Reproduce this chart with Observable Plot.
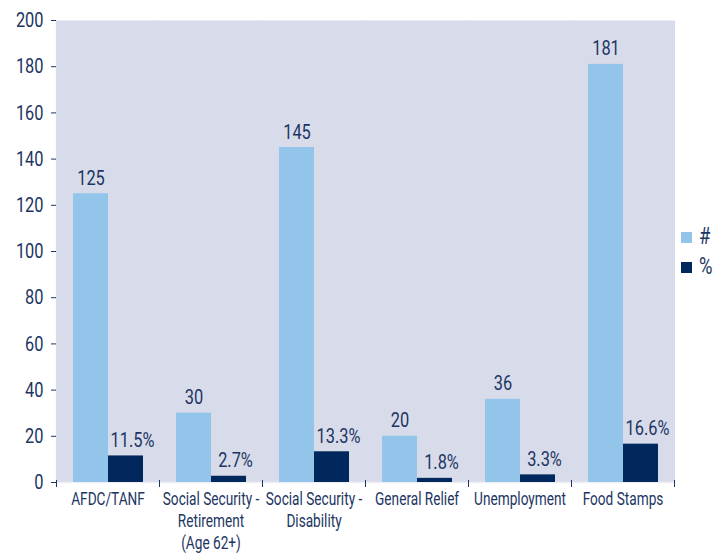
<!DOCTYPE html>
<html>
<head>
<meta charset="utf-8">
<script src="https://cdn.jsdelivr.net/npm/d3@7"></script>
<script src="https://cdn.jsdelivr.net/npm/@observablehq/plot@0.6"></script>
<style>
  body { margin: 0; background: #fff; }
  #wrap { position: relative; width: 725px; height: 553px; font-family: Roboto, sans-serif; color: #1c3563; }
  #legend { position: absolute; left: 681px; top: 222px; font-size: 23px; line-height: 30px; }
  #legend div { display: flex; align-items: center; }
  #legend span.sw { display: inline-block; width: 11px; height: 11px; margin-right: 7px; }
  #legend span.tx { display: inline-block; transform: scaleX(0.8); transform-origin: left center; }
</style>
</head>
<body>
<div id="wrap"><div id="legend"></div></div>
<script>
const categories = ["AFDC/TANF", "Social Security - Retirement (Age 62+)", "Social Security - Disability", "General Relief", "Unemployment", "Food Stamps"];
const tickLabels = ["AFDC/TANF", "Social Security -\nRetirement\n(Age 62+)", "Social Security -\nDisability", "General Relief", "Unemployment", "Food Stamps"];
const seriesNames = ["#", "%"];
const countValues = [125, 30, 145, 20, 36, 181];
const percentValues = [11.5, 2.7, 13.3, 1.8, 3.3, 16.6];
const yTicks = [0, 20, 40, 60, 80, 100, 120, 140, 160, 180, 200];

const colors = {"#": "#93c4ea", "%": "#00285c"};
const navy = "#1c3563";

const data = [];
categories.forEach((c, i) => {
  data.push({cat: c, series: "#", value: countValues[i], label: String(countValues[i])});
  data.push({cat: c, series: "%", value: percentValues[i], label: percentValues[i].toFixed(1) + "%"});
});

const chart = Plot.plot({
  width: 725,
  height: 553,
  marginLeft: 55,
  marginRight: 50,
  marginTop: 20,
  marginBottom: 71,
  style: {fontFamily: 'Roboto, sans-serif', color: navy, background: "transparent"},
  fx: {domain: categories, padding: 0},
  x: {domain: seriesNames, paddingInner: 0, paddingOuter: 0.47, axis: null},
  y: {domain: [0, 200]},
  color: {domain: seriesNames, range: seriesNames.map(s => colors[s])},
  marks: [
    Plot.frame({fill: "#d8dcea", stroke: null, insetLeft: -0.6, insetRight: -0.6}),
    Plot.ruleY([0], {stroke: "#eef0f6", strokeWidth: 1.5}),
    Plot.barY(data, {fx: "cat", x: "series", y: "value", fill: "series"}),
    Plot.text(data.filter(d => d.series === "#"), {fx: "cat", x: "series", y: "value", text: "label", lineAnchor: "bottom", dy: -9, fontSize: 21, fill: navy}),
    Plot.text(data.filter(d => d.series === "%"), {fx: "cat", x: "series", y: "value", text: "label", lineAnchor: "bottom", dy: -9, dx: 6.5, fontSize: 21, fill: navy}),
    Plot.frame({anchor: "left", stroke: navy, strokeWidth: 1, insetTop: 460, insetBottom: -4}),
    Plot.frame({anchor: "right", stroke: navy, strokeWidth: 1, insetTop: 460, insetBottom: -4}),
    Plot.axisY({ticks: yTicks, tickSize: 5, tickPadding: 8, fontSize: 21, label: null, stroke: navy, fill: navy}),
    Plot.axisFx({anchor: "bottom", tickSize: 0, tickPadding: 7, fontSize: 17.5, lineHeight: 1.25, label: null, fill: navy,
      tickFormat: d => tickLabels[categories.indexOf(d)]})
  ]
});
document.getElementById("wrap").prepend(chart);

// condense all text horizontally (the reference uses a condensed face)
const SX = 0.78;
chart.querySelectorAll("text").forEach(t => {
  const bb = t.getBBox();
  const anchor = getComputedStyle(t).textAnchor;
  const ox = anchor === "end" ? bb.x + bb.width : anchor === "start" ? bb.x : bb.x + bb.width / 2;
  const g = document.createElementNS("http://www.w3.org/2000/svg", "g");
  const tr = t.getAttribute("transform");
  if (tr) g.setAttribute("transform", tr);
  t.parentNode.insertBefore(g, t);
  g.appendChild(t);
  t.setAttribute("transform", `translate(${ox},0) scale(${SX},1) translate(${-ox},0)`);
});

const legend = document.getElementById("legend");
seriesNames.forEach(s => {
  const row = document.createElement("div");
  row.innerHTML = `<span class="sw" style="background:${colors[s]}"></span><span class="tx">${s}</span>`;
  legend.appendChild(row);
});
</script>
</body>
</html>
